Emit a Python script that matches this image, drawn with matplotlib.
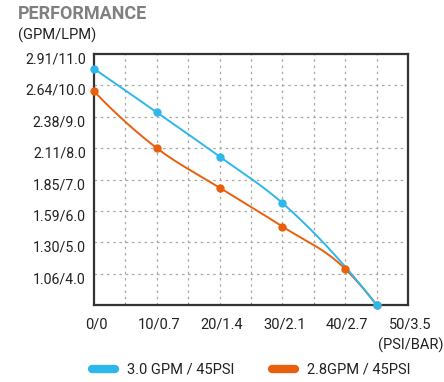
import numpy as np
import matplotlib
matplotlib.use("Agg")
import matplotlib.pyplot as plt
import matplotlib.transforms as mtransforms
from matplotlib.lines import Line2D

plt.rcParams['font.family'] = ['Roboto', 'DejaVu Sans']

# Data (x: PSI, y: LPM)
psi_ticks = [0, 10, 20, 30, 40, 50]
x_labels = ["0/0", "10/0.7", "20/1.4", "30/2.1", "40/2.7", "50/3.5"]
lpm_ticks = [4.0, 5.0, 6.0, 7.0, 8.0, 9.0, 10.0, 11.0]
y_labels = ["1.06/4.0", "1.30/5.0", "1.59/6.0", "1.85/7.0", "2.11/8.0", "2.38/9.0", "2.64/10.0", "2.91/11.0"]

blue_psi = [0, 10, 20, 30, 45]
blue_lpm = [10.53, 9.14, 7.73, 6.25, 3.0]
orange_psi = [0, 10, 20, 30, 40, 45]
orange_lpm = [9.81, 8.00, 6.74, 5.50, 4.15, 3.0]

series_names = ["3.0 GPM / 45PSI", "2.8GPM / 45PSI"]
blue_c = "#2DB7EA"
orange_c = "#E8600E"


def smooth(xs, ys, n=200):
    x = np.asarray(xs, float); y = np.asarray(ys, float)
    h = np.diff(x); d = np.diff(y) / h
    m = np.zeros_like(y)
    for i in range(1, len(x) - 1):
        m[i] = (h[i - 1] * d[i] + h[i] * d[i - 1]) / (h[i - 1] + h[i])
    m[0] = 2 * d[0] - m[1]
    m[-1] = 2 * d[-1] - m[-2]
    xx = np.linspace(x[0], x[-1], n)
    yy = np.empty_like(xx)
    for k, xv in enumerate(xx):
        i = min(np.searchsorted(x, xv, side='right') - 1, len(x) - 2)
        t = (xv - x[i]) / h[i]
        h00 = 2 * t ** 3 - 3 * t ** 2 + 1; h10 = t ** 3 - 2 * t ** 2 + t
        h01 = -2 * t ** 3 + 3 * t ** 2; h11 = t ** 3 - t ** 2
        yy[k] = h00 * y[i] + h10 * h[i] * m[i] + h01 * y[i + 1] + h11 * h[i] * m[i + 1]
    return xx, yy


fig = plt.figure(figsize=(4.44, 3.82), dpi=100)
top_px, bot_px = 54.0, 305.0
ax = fig.add_axes([94 / 444, 1 - bot_px / 382, (408 - 94) / 444, (bot_px - top_px) / 382])

ax.set_xlim(0, 50)
ax.set_ylim(3.0, 11.0)

for v in np.arange(5, 50, 5):
    ax.axvline(v, color="#a8a8a8", lw=0.9, ls=(0, (2, 3)), zorder=0)
for v in np.arange(4, 11, 1):
    ax.axhline(v, color="#a8a8a8", lw=0.9, ls=(0, (2, 3)), zorder=0)

bx, by = smooth(blue_psi, blue_lpm)
ox, oy = smooth(orange_psi, orange_lpm)
ax.plot(ox, oy, color=orange_c, lw=1.4, zorder=3, clip_on=False)
ax.plot(orange_psi, orange_lpm, 'o', color=orange_c, ms=5, zorder=4, clip_on=False)
ax.plot(bx, by, color=blue_c, lw=1.4, zorder=3, clip_on=False)
ax.plot(blue_psi, blue_lpm, 'o', color=blue_c, ms=5, zorder=5, clip_on=False)

ax.set_xticks(psi_ticks)
ax.set_xticklabels(x_labels, fontsize=10.5, color="#222222")
ax.set_xticks(np.arange(5, 50, 5), minor=True)
ax.set_yticks(lpm_ticks)
ax.set_yticklabels(y_labels, fontsize=10.2, color="#222222")
ax.tick_params(axis='both', which='major', length=0)
ax.tick_params(axis='x', which='major', pad=9)
ax.tick_params(axis='y', which='major', pad=6)
ax.tick_params(axis='x', which='minor', direction='in', length=2.5, color="#888888")
ax.tick_params(axis='y', which='minor', length=0)

off = mtransforms.ScaledTranslation(0, -4 / 100, fig.dpi_scale_trans)
for lab in ax.get_yticklabels():
    lab.set_transform(lab.get_transform() + off)
offx = mtransforms.ScaledTranslation(2 / 100, 0, fig.dpi_scale_trans)
for lab in ax.get_xticklabels():
    lab.set_transform(lab.get_transform() + offx)

for s in ax.spines.values():
    s.set_color("#333333")
    s.set_linewidth(1.6)

fig.text(18 / 444, 1 - 14 / 382, "PERFORMANCE", fontsize=13, fontweight='bold',
         color="#808080", va='center', ha='left')
fig.text(18 / 444, 1 - 35 / 382, "(GPM/LPM)", fontsize=10.5, color="#222222",
         va='center', ha='left')
fig.text(443 / 444, 1 - 345 / 382, "(PSI/BAR)", fontsize=10.5, color="#222222",
         va='center', ha='right')

# legend
handles = [Line2D([0], [0], color=blue_c, lw=6, solid_capstyle='round'),
           Line2D([0], [0], color=orange_c, lw=6, solid_capstyle='round')]
fig.legend(handles, series_names, loc='center', bbox_to_anchor=(251 / 444, 1 - 370 / 382),
           ncol=2, frameon=False, fontsize=10.5, handlelength=1.6, columnspacing=2.6,
           handletextpad=0.8, labelcolor="#222222")

fig.savefig("out.png", dpi=100)
